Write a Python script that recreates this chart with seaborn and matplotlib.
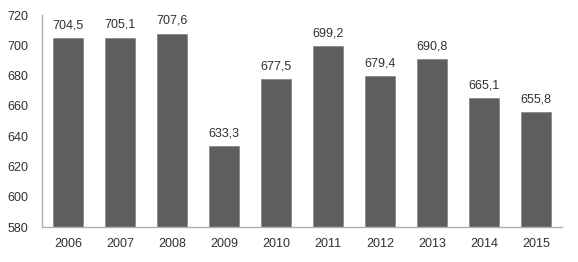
import matplotlib
matplotlib.use("Agg")
import matplotlib.pyplot as plt
import seaborn as sns
import pandas as pd

years = ["2006", "2007", "2008", "2009", "2010", "2011", "2012", "2013", "2014", "2015"]
values = [704.5, 705.1, 707.6, 633.3, 677.5, 699.2, 679.4, 690.8, 665.1, 655.8]
yticks = [580, 600, 620, 640, 660, 680, 700, 720]

df = pd.DataFrame({"year": years, "value": values})

sns.set_style("white")
plt.rcParams["font.family"] = ["Liberation Sans", "DejaVu Sans"]

fig = plt.figure(figsize=(5.78, 2.62), dpi=100)
ax = fig.add_axes([42 / 578, 1 - 227 / 262, 520 / 578, 212 / 262])

sns.barplot(data=df, x="year", y="value", color="#5e5e5e", width=0.56,
            edgecolor="#8a8a8a", linewidth=0.6, saturation=1, ax=ax)

for i, v in enumerate(values):
    ax.text(i, v + 4.5, f"{v:.1f}".replace(".", ","), ha="center", va="bottom",
            fontsize=9, color="#303030")

ax.set_ylim(580, 720)
ax.set_yticks(yticks)
ax.set_xlim(-0.5, len(years) - 0.5)
ax.set_xlabel("")
ax.set_ylabel("")
ax.tick_params(axis="both", length=0, labelsize=9, labelcolor="#303030")
ax.tick_params(axis="x", pad=8)
ax.tick_params(axis="y", pad=10)

for s in ["top", "right"]:
    ax.spines[s].set_visible(False)
for s in ["left", "bottom"]:
    ax.spines[s].set_color("#b0b0b0")
    ax.spines[s].set_linewidth(1)

fig.savefig("out.png", dpi=100)
